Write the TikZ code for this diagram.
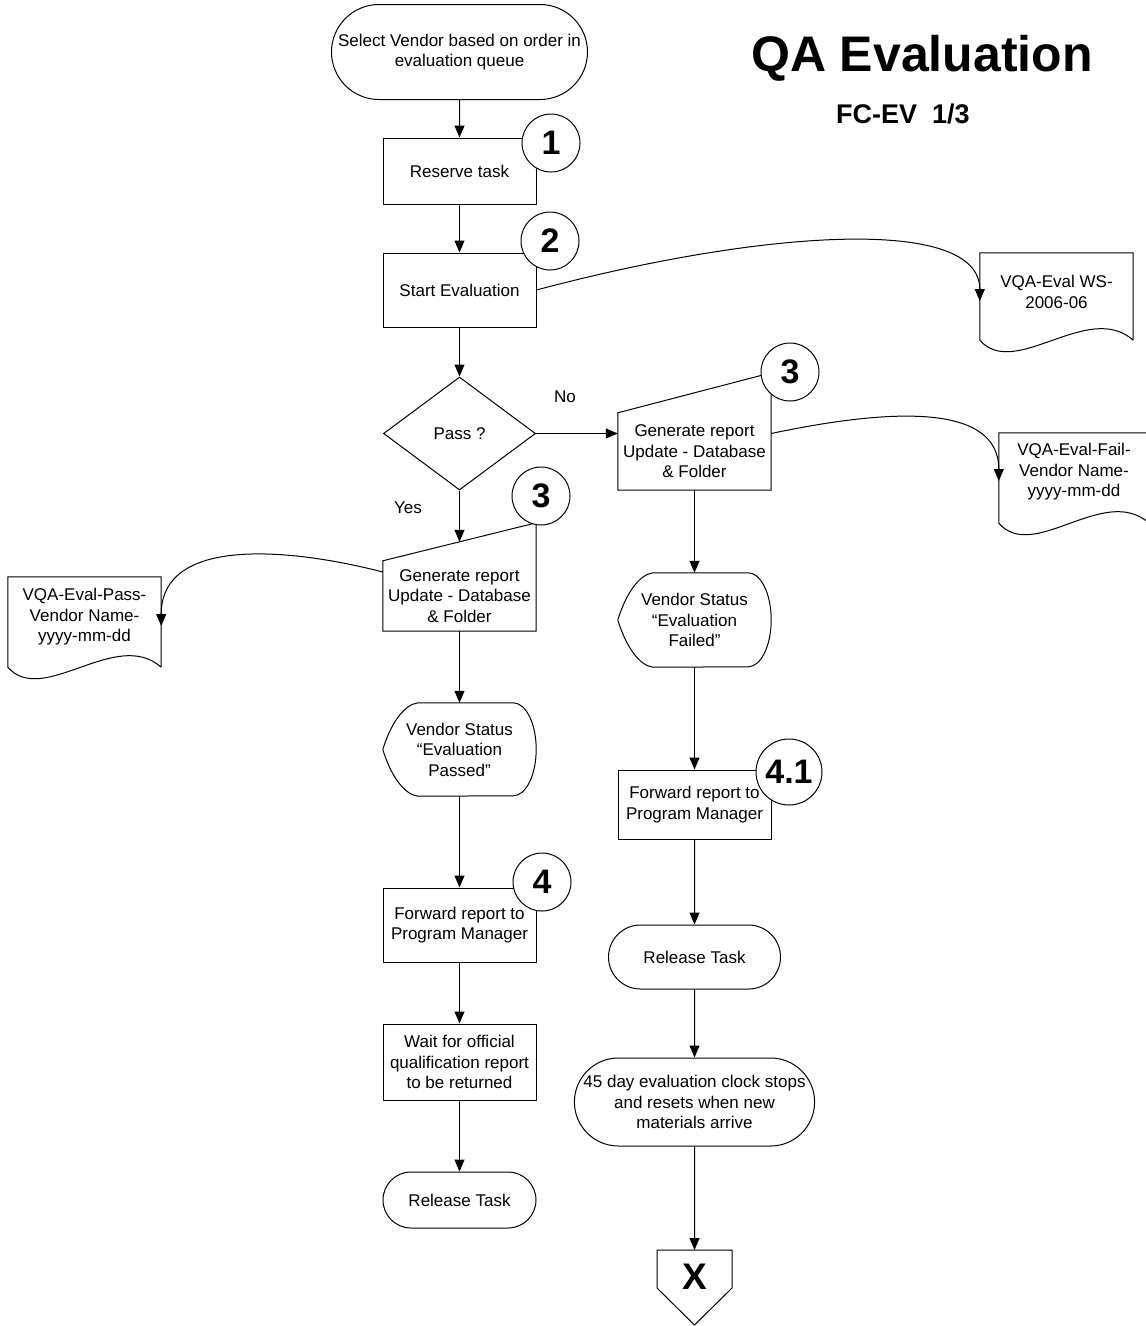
\documentclass[tikz,border=0pt]{standalone}
\usepackage{fontspec}
\setmainfont{Liberation Sans}
\usetikzlibrary{shapes.geometric,shapes.misc,arrows.meta}

\begin{document}
\begin{tikzpicture}[x=1pt,y=-1pt,
    every node/.style={font=\fontsize{17}{20.5}\selectfont, align=center, inner sep=0pt},
    line/.style={line width=1pt},
    arr/.style={line width=1pt, -{Triangle[length=12pt,width=10pt]}},
    proc/.style={draw, line width=1pt, minimum width=153pt},
    term/.style={draw, line width=1pt, rounded rectangle},
    txtbox/.style={minimum width=153pt},
    num/.style={draw, circle, fill=white, line width=1pt, minimum size=58pt, font=\fontsize{34}{34}\selectfont\bfseries}]

    \useasboundingbox (0,0) rectangle (1146,1326);
    \clip (0,0) rectangle (1146,1326);

    \node [font=\fontsize{50}{50}\selectfont\bfseries] (title) at (922,58) {QA Evaluation};
    \node [font=\fontsize{27}{27}\selectfont\bfseries] (code) at (903,114) {FC-EV\ \ 1/3};

    \node [term, minimum width=256pt, minimum height=95pt] (start) at (459.5,52) {Select Vendor based on order in\\evaluation queue};
    \node [proc, minimum height=66pt] (reserve) at (459.5,171) {Reserve task};
    \node [proc, minimum height=74pt] (startev) at (459.5,290) {Start Evaluation};
    \node [draw, diamond, line width=1pt, minimum width=152pt, minimum height=113pt] (pass) at (459.5,433.5) {Pass ?};

    \node (no) at (565,397) {No};
    \node (yes) at (408,508) {Yes};

    \node [txtbox, minimum height=70pt] (genP) at (459.5,596) {Generate report\\Update - Database\\\& Folder};
    \draw [line] (genP.south west) -- (genP.north west) -- ([yshift=38pt]genP.north east) -- (genP.south east) -- cycle;
    \node [txtbox, minimum height=77pt] (genF) at (694.5,451.5) {Generate report\\Update - Database\\\& Folder};
    \draw [line] (genF.south west) -- (genF.north west) -- ([yshift=40pt]genF.north east) -- (genF.south east) -- cycle;

    \node [txtbox, minimum height=93pt] (vsP) at (459.5,749.5) {Vendor Status\\“Evaluation\\Passed”};
    \draw [line] (vsP.west) .. controls +(8,-26) and +(-14,2) .. ([xshift=35pt]vsP.north west) -- ([xshift=-23pt]vsP.north east)
        arc [start angle=90, end angle=-90, x radius=23pt, y radius=46.5pt] -- ([xshift=35pt]vsP.south west)
        .. controls +(-14,-2) and +(8,26) .. (vsP.west);
    \node [txtbox, minimum height=94pt] (vsF) at (694.5,620) {Vendor Status\\“Evaluation\\Failed”};
    \draw [line] (vsF.west) .. controls +(8,-26) and +(-14,2) .. ([xshift=35pt]vsF.north west) -- ([xshift=-23pt]vsF.north east)
        arc [start angle=90, end angle=-90, x radius=23pt, y radius=47pt] -- ([xshift=35pt]vsF.south west)
        .. controls +(-14,-2) and +(8,26) .. (vsF.west);

    \node [proc, minimum height=74pt] (fwdP) at (459.5,925) {Forward report to\\Program Manager};
    \node [proc, minimum height=76pt] (wait) at (459.5,1062) {Wait for official\\qualification report\\to be returned};
    \node [term, minimum width=153pt, minimum height=56pt] (relP) at (459.5,1200) {Release Task};

    \node [proc, minimum height=69pt] (fwdF) at (694.5,804.5) {Forward report to\\Program Manager};
    \node [term, minimum width=172pt, minimum height=64pt] (relF) at (694.5,957) {Release Task};
    \node [term, minimum width=235pt, minimum height=88pt] (clock) at (694.5,1102) {45 day evaluation clock stops\\and resets when new\\materials arrive};

    \draw [line] (657,1250) -- (732,1250) -- (732,1288) -- (694.5,1325) -- (657,1288) -- cycle;
    \coordinate (xtop) at (694.5,1250);
    \node [font=\fontsize{37}{37}\selectfont\bfseries] (xcon) at (694.5,1277) {X};

    \node [txtbox, minimum height=78pt] (wsdoc) at (1056.5,292) {VQA-Eval WS-\\2006-06};
    \draw [line] ([yshift=-9pt]wsdoc.south east) -- (wsdoc.north east) -- (wsdoc.north west) -- ([yshift=-9pt]wsdoc.south west)
        .. controls +(35,40) and +(-45,-40) .. ([yshift=-9pt]wsdoc.south east);
    \node [minimum width=150pt, minimum height=78pt] (faildoc) at (1074,472) {VQA-Eval-Fail-\\Vendor Name-\\yyyy-mm-dd};
    \draw [line] ([yshift=-12pt]faildoc.south east) -- (faildoc.north east) -- (faildoc.north west) -- ([yshift=-12pt]faildoc.south west)
        .. controls +(35,40) and +(-45,-40) .. ([yshift=-12pt]faildoc.south east);
    \node [txtbox, minimum height=80pt] (passdoc) at (84.5,617) {VQA-Eval-Pass-\\Vendor Name-\\yyyy-mm-dd};
    \draw [line] ([yshift=-10pt]passdoc.south east) -- (passdoc.north east) -- (passdoc.north west) -- ([yshift=-10pt]passdoc.south west)
        .. controls +(35,40) and +(-45,-40) .. ([yshift=-10pt]passdoc.south east);

    \draw [arr] (start) -- (reserve);
    \draw [arr] (reserve) -- (startev);
    \draw [arr] (startev) -- (pass);
    \draw [arr] (pass.south) -- ([yshift=19pt]genP.north);
    \draw [arr] (pass.east) -- (pass.east -| genF.west);
    \draw [arr] (genP) -- (vsP);
    \draw [arr] (vsP) -- (fwdP);
    \draw [arr] (fwdP) -- (wait);
    \draw [arr] (wait) -- (relP);
    \draw [arr] (genF) -- (vsF);
    \draw [arr] (vsF) -- (fwdF);
    \draw [arr] (fwdF) -- (relF);
    \draw [arr] (relF) -- (clock);
    \draw [arr] (clock) -- (xtop);

    \draw [arr] (startev.east) .. controls +(225,-60) and +(0,-86) .. ([yshift=-9pt]wsdoc.west);
    \draw [arr] ([yshift=18pt]genF.east) .. controls +(109,-23) and +(0,-81) .. ([yshift=-9pt]faildoc.west);
    \draw [arr] ([yshift=24pt]genP.west) .. controls +(-93,-24) and +(0,-90) .. ([yshift=-9pt]passdoc.east);

    \node [num] (n1) at (551,143) {1};
    \node [num] (n2) at (550,241) {2};
    \node [num] (n3F) at (790,372) {3};
    \node [num] (n3P) at (541,496) {3};
    \node [num] (n4) at (542,882) {4};
    \node [num, minimum size=66pt] (n41) at (789,772) {4.1};
\end{tikzpicture}
\end{document}
